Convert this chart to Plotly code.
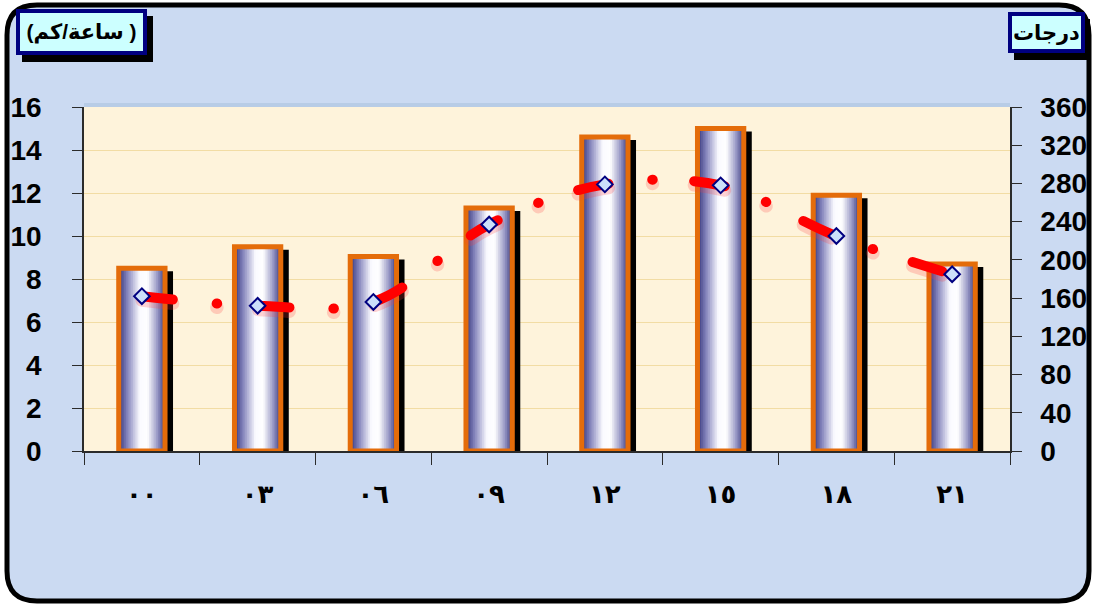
import plotly.graph_objects as go

# Observation hours (Arabic-Indic digits)
hours = ["٠٠", "٠٣", "٠٦", "٠٩", "١٢", "١٥", "١٨", "٢١"]
# Wind speed (km/h) - left axis
wind_speed = [8.5, 9.5, 9.05, 11.3, 14.6, 15.0, 11.9, 8.7]
# Wind direction (degrees) - right axis
wind_direction = [162, 152, 156, 237, 279, 278, 225, 185]

speed_ticks = list(range(0, 17, 2))
direction_ticks = list(range(0, 361, 40))

# ---- layout geometry helpers (pixels -> paper units) ----
W, H = 1095, 607
ML, MR, MT, MB = 84, 85, 107, 156
PW, PH = W - ML - MR, H - MT - MB


def px(x):
    return (x - ML) / PW


def py(y):
    return (H - MB - y) / PH


FONT = "Arial, 'Liberation Sans', 'DejaVu Sans', sans-serif"
AXIS_COL = "#2B2B2B"
BAR_W = 0.40
N_STRIPS = 26
LINE_DASH = "31px,44px,0.5px,41.5px"
SHADOW_DROP = 4 * 360 / PH  # 4px drop of the line shadow, in degrees

# cylinder-like shading across each column
stops = [(0.0, (52, 52, 122)), (0.18, (130, 130, 186)), (0.45, (250, 250, 255)),
         (0.62, (255, 255, 255)), (0.84, (150, 150, 196)), (1.0, (58, 58, 126))]


def shade(t):
    for (t0, c0), (t1, c1) in zip(stops[:-1], stops[1:]):
        if t0 <= t <= t1:
            f = (t - t0) / (t1 - t0)
            return "rgb(%d,%d,%d)" % tuple(round(a + (b - a) * f) for a, b in zip(c0, c1))
    return "rgb(%d,%d,%d)" % stops[-1][1]


fig = go.Figure()

# drop shadow behind each column
fig.add_trace(go.Bar(
    x=hours, y=wind_speed, base=-0.14, width=BAR_W, offset=-BAR_W / 2 + 8.0 / (PW / 8),
    marker=dict(color="black", line=dict(width=0)), hoverinfo="skip"))

# shaded column body, built from thin vertical strips
sw = BAR_W / N_STRIPS
for i in range(N_STRIPS):
    fig.add_trace(go.Bar(
        x=hours, y=wind_speed, width=sw * 1.6, offset=-BAR_W / 2 + i * sw,
        marker=dict(color=shade((i + 0.5) / N_STRIPS), line=dict(width=0)),
        hoverinfo="skip"))

# orange column outline
fig.add_trace(go.Bar(
    x=hours, y=wind_speed, width=BAR_W, offset=-BAR_W / 2,
    marker=dict(color="rgba(0,0,0,0)", line=dict(color="#E46C0A", width=5)),
    hoverinfo="skip"))

# soft shadow under the direction line (on a slightly shifted hidden axis)
fig.add_trace(go.Scatter(
    x=hours, y=wind_direction, yaxis="y2", mode="lines",
    line=dict(color="rgba(255,60,60,0.22)", width=13, shape="spline", smoothing=1,
              dash=LINE_DASH),
    hoverinfo="skip"))

# smoothed, long-dash-dot direction line
fig.add_trace(go.Scatter(
    x=hours, y=wind_direction, yaxis="y3", mode="lines",
    line=dict(color="#FF0000", width=10, shape="spline", smoothing=1, dash=LINE_DASH),
    hoverinfo="skip"))

# direction markers
fig.add_trace(go.Scatter(
    x=hours, y=wind_direction, yaxis="y3", mode="markers",
    marker=dict(symbol="diamond", size=12, color="#CCDFFA",
                line=dict(color="#000080", width=2)),
    hoverinfo="skip"))


def rounded_rect(x0, y0, x1, y1, r):
    pts = [("M", x0 + r, y0), ("L", x1 - r, y0), ("Q", x1, y0, x1, y0 + r),
           ("L", x1, y1 - r), ("Q", x1, y1, x1 - r, y1), ("L", x0 + r, y1),
           ("Q", x0, y1, x0, y1 - r), ("L", x0, y0 + r), ("Q", x0, y0, x0 + r, y0)]
    out = []
    for p in pts:
        cmd, coords = p[0], p[1:]
        segs = []
        for k in range(0, len(coords), 2):
            segs.append("%.5f,%.5f" % (px(coords[k]), py(coords[k + 1])))
        out.append(cmd + " " + " ".join(segs))
    return " ".join(out) + " Z"


shapes = [
    # outer rounded frame with bluish background
    dict(type="path", xref="paper", yref="paper", layer="below",
         path=rounded_rect(7, 5, 1089, 601, 30),
         fillcolor="#CBDAF2", line=dict(color="black", width=5)),
    # plot area
    dict(type="rect", xref="paper", yref="paper", layer="below",
         x0=0, x1=1, y0=0, y1=1, fillcolor="#FEF3DB", line=dict(width=0)),
    # top wall edge
    dict(type="line", xref="paper", yref="paper", layer="below",
         x0=0, x1=1, y0=py(105), y1=py(105), line=dict(color="#B8CCE6", width=4)),
    # title box shadows
    dict(type="rect", xref="paper", yref="paper", layer="above",
         x0=px(22), x1=px(153), y0=py(62), y1=py(16), fillcolor="black", line=dict(width=0)),
    dict(type="rect", xref="paper", yref="paper", layer="above",
         x0=px(1014), x1=px(1090), y0=py(60), y1=py(19), fillcolor="black", line=dict(width=0)),
]

# unit labels (right-to-left text)
speed_unit = "(ساعة/كم )"
direction_unit = "درجات"

annotations = [
    dict(xref="paper", yref="paper", x=px(81), y=py(32), xanchor="center", yanchor="middle",
         text=speed_unit, showarrow=False, width=119, height=34,
         font=dict(family=FONT, size=21, color="black", weight="bold"),
         bgcolor="#CCFFFF", bordercolor="#000080", borderwidth=4, borderpad=2),
    dict(xref="paper", yref="paper", x=px(1046.5), y=py(32.5), xanchor="center", yanchor="middle",
         text=direction_unit, showarrow=False, width=65, height=29,
         font=dict(family=FONT, size=21, color="black", weight="bold"),
         bgcolor="#CCFFFF", bordercolor="#000080", borderwidth=4, borderpad=2),
]

tick_font = dict(family=FONT, size=28, color="black", weight="bold")
hidden = dict(showticklabels=False, showgrid=False, showline=False, zeroline=False,
              automargin=False)

fig.update_layout(
    width=W, height=H,
    margin=dict(l=ML, r=MR, t=MT, b=MB, pad=0, autoexpand=False),
    paper_bgcolor="white", plot_bgcolor="rgba(0,0,0,0)",
    barmode="overlay", showlegend=False,
    shapes=shapes, annotations=annotations,
    xaxis=dict(type="category", range=[-0.5, 7.5], showline=True, linecolor=AXIS_COL,
               linewidth=1.5, ticks="outside", ticklen=12, tickcolor=AXIS_COL,
               tickson="boundaries", showgrid=False, zeroline=False, automargin=False,
               tickfont=dict(family=FONT, size=26, color="black", weight="bold"),
               ticklabelstandoff=19),
    yaxis=dict(range=[0, 16], tickvals=speed_ticks, showline=True, linecolor=AXIS_COL,
               linewidth=1.5, ticks="outside", ticklen=10, tickcolor=AXIS_COL,
               showgrid=True, gridcolor="#F2DCA4", gridwidth=1, zeroline=False,
               automargin=False, tickfont=tick_font, ticklabelstandoff=25),
    # hidden axis carrying the line shadow, shifted a few pixels down
    yaxis2=dict(overlaying="y", side="right", range=[SHADOW_DROP, 360 + SHADOW_DROP],
                ticks="", **hidden),
    yaxis3=dict(overlaying="y", side="right", range=[0, 360], tickvals=direction_ticks,
                showline=True, linecolor=AXIS_COL, linewidth=1.5, ticks="outside",
                ticklen=10, tickcolor=AXIS_COL, showgrid=False, zeroline=False,
                automargin=False, tickfont=tick_font, ticklabelstandoff=13),
    yaxis4=dict(overlaying="y", side="left", range=[0, 16], tickvals=speed_ticks,
                ticks="inside", ticklen=9, tickcolor=AXIS_COL, **hidden),
    yaxis5=dict(overlaying="y", side="right", range=[0, 360], tickvals=direction_ticks,
                ticks="inside", ticklen=9, tickcolor=AXIS_COL, **hidden),
)

# round line caps so the dash pattern ends and dots are rounded
round_caps = ("var s=document.createElement('style');"
              "s.textContent='.js-line{stroke-linecap:round;stroke-linejoin:round;}';"
              "document.head.appendChild(s);")

fig.write_html("out.html", post_script=round_caps)
